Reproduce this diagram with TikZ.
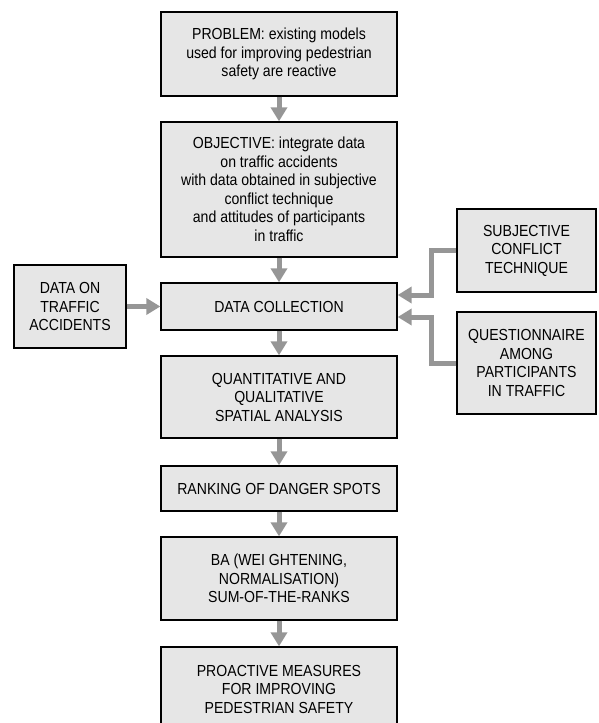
\documentclass[tikz,border=0pt]{standalone}
\usepackage{fontspec}
\setmainfont{Liberation Sans}[FakeStretch=0.88]
\usetikzlibrary{arrows.meta}
\definecolor{boxfill}{RGB}{230,230,230}
\definecolor{flowgray}{RGB}{150,150,150}

\begin{document}
\begin{tikzpicture}[x=1pt, y=-1pt,
    box/.style={draw=black, line width=1.3pt, fill=boxfill, align=center,
        inner sep=0pt, font=\fontsize{16}{18.5}\selectfont},
    mainbox/.style={box, minimum width=236pt},
    sidebox/.style={box, minimum width=139pt},
    flow/.style={draw=flowgray, line width=5pt, -{Triangle[width=16pt,length=14pt]}}]
    \useasboundingbox (0,0) rectangle (598,723);
    \clip (0,0) rectangle (598,723);

    % main column
    \node[mainbox, minimum height=84pt] (problem) at (279,54)
        {PROBLEM: existing models\\used for improving pedestrian\\safety are reactive};
    \node[mainbox, minimum height=135pt] (objective) at (279,189.5)
        {OBJECTIVE: integrate data\\on traffic accidents\\with data obtained in subjective\\conflict technique\\and attitudes of participants\\in traffic};
    \node[mainbox, minimum height=47pt] (collection) at (279,306.5) {DATA COLLECTION};
    \node[mainbox, minimum height=82pt] (analysis) at (279,397)
        {QUANTITATIVE AND\\QUALITATIVE\\SPATIAL ANALYSIS};
    \node[mainbox, minimum height=45pt] (ranking) at (279,488.5) {RANKING OF DANGER SPOTS};
    \node[mainbox, minimum height=83pt] (sumranks) at (279,578.5)
        {BA (WEI GHTENING,\\NORMALISATION)\\SUM-OF-THE-RANKS};
    \node[mainbox, minimum height=84pt] (measures) at (279,689)
        {PROACTIVE MEASURES\\FOR IMPROVING\\PEDESTRIAN SAFETY};

    % inputs
    \node[box, minimum width=112pt, minimum height=83pt] (accidents) at (70,306.5)
        {DATA ON\\TRAFFIC\\ACCIDENTS};
    \node[sidebox, minimum height=83pt] (conflict) at (526.5,250.5)
        {SUBJECTIVE\\CONFLICT\\TECHNIQUE};
    \node[sidebox, minimum height=102pt] (survey) at (526.5,363)
        {QUESTIONNAIRE\\AMONG\\PARTICIPANTS\\IN TRAFFIC};

    \draw[flow] (problem) -- (objective);
    \draw[flow] (objective) -- (collection);
    \draw[flow] (collection) -- (analysis);
    \draw[flow] (analysis) -- (ranking);
    \draw[flow] (ranking) -- (sumranks);
    \draw[flow] (sumranks) -- (measures);
    \draw[flow] (accidents) -- (collection);
    \draw[flow] (conflict.west) -- ++(-25,0) |- ([yshift=11.5pt]collection.east);
    \draw[flow] (survey.west) -- ++(-25,0) |- ([yshift=-10.5pt]collection.east);
\end{tikzpicture}
\end{document}
